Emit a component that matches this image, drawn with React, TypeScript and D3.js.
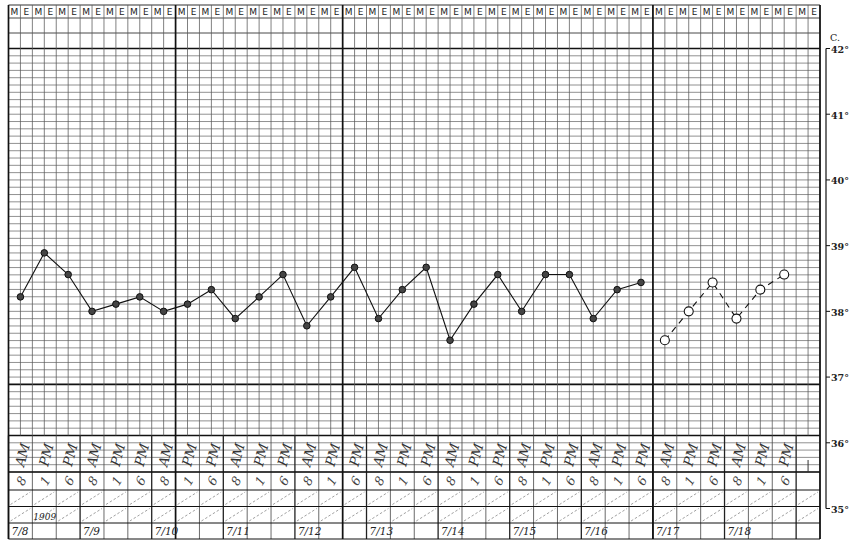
import * as d3 from "d3";

// dates along the bottom, three readings per day
const days = ["7/8", "7/9", "7/10", "7/11", "7/12", "7/13", "7/14", "7/15", "7/16", "7/17", "7/18"];
const hours = ["8", "1", "6"];
const periods = ["AM", "PM", "PM"];
const headerLetters = ["M", "E"];
const scaleLabels = [42, 41, 40, 39, 38, 37, 36, 35];

// temperatures (°C), 7/8 8AM .. 7/16 6PM
const solidTemps = [
  38.22, 38.89, 38.56, 38.0, 38.11, 38.22, 38.0, 38.11, 38.33,
  37.89, 38.22, 38.56, 37.78, 38.22, 38.67, 37.89, 38.33, 38.67,
  37.56, 38.11, 38.56, 38.0, 38.56, 38.56, 37.89, 38.33, 38.44,
];
// 7/17 8AM .. 7/18 6PM, drawn dashed with open circles
const dashedTemps = [37.56, 38.0, 38.44, 37.89, 38.33, 38.56];

const W = 855;
const H = 548;

export default function App() {
  const nCols = days.length * 3 + 1;
  const x = d3.scaleLinear().domain([0, nCols]).range([8.5, 820]);
  const y = d3.scaleLinear().domain([35, 42]).range([508.5, 48.5]);
  const cx = (i: number) => x(i + 0.5);

  // grid is ruled in 0.2°F steps -> 9 lines per °C
  const gridTemps = d3.range(0, 59).map((k) => 42 - k / 9);
  const thickRows = [0, 46, 53];
  const gridBottom = y(gridTemps[58]);
  const labelTop = y(gridTemps[53]);
  const tableRows = [gridBottom, 490, 506.5, 523, 539];
  const top = 5;
  const thickCols = [0, 7, 14, 27, nCols];

  const line = d3
    .line<number>()
    .x((_, i) => cx(i))
    .y((d) => y(d));
  const dashLine = d3
    .line<number>()
    .x((_, i) => cx(i + solidTemps.length))
    .y((d) => y(d));

  const thin = "#555";
  const hand = "'DejaVu Serif', serif";

  return (
    <svg
      width={W}
      height={H}
      viewBox={`0 0 ${W} ${H}`}
      style={{ position: "absolute", left: 0, top: 0, background: "#fff", display: "block" }}
    >
      {/* horizontal lines above the grid */}
      {[top, 18, 33].map((yy, i) => (
        <line key={"hh" + i} x1={x(0)} x2={x(nCols)} y1={yy} y2={yy} stroke="#333" strokeWidth={i === 0 ? 1.2 : 0.9} />
      ))}

      {/* temperature grid rows */}
      {gridTemps.map((t, k) => (
        <line
          key={"gr" + k}
          x1={x(0)}
          x2={x(nCols)}
          y1={y(t)}
          y2={y(t)}
          stroke={thickRows.includes(k) ? "#111" : thin}
          strokeWidth={thickRows.includes(k) ? 1.7 : 0.65}
        />
      ))}

      {/* half-column verticals down to the label area */}
      {d3.range(0, nCols * 2 + 1).map((k) => (
        <line
          key={"hv" + k}
          x1={x(k / 2)}
          x2={x(k / 2)}
          y1={top}
          y2={labelTop}
          stroke={thin}
          strokeWidth={0.75}
        />
      ))}

      {/* full-column verticals through the lower table */}
      {d3.range(0, nCols + 1).map((k) => (
        <line
          key={"fv" + k}
          x1={x(k)}
          x2={x(k)}
          y1={labelTop}
          y2={tableRows[4]}
          stroke={k % 3 === 0 ? "#222" : "#444"}
          strokeWidth={k % 3 === 0 ? 1.3 : 0.8}
        />
      ))}

      {/* heavy verticals */}
      {thickCols.map((k) => (
        <line key={"tv" + k} x1={x(k)} x2={x(k)} y1={top} y2={tableRows[4]} stroke="#111" strokeWidth={1.7} />
      ))}

      {/* lower table rows */}
      {tableRows.map((yy, i) => (
        <line
          key={"tr" + i}
          x1={x(0)}
          x2={x(nCols)}
          y1={yy}
          y2={yy}
          stroke="#111"
          strokeWidth={i === 0 ? 1.6 : 1}
        />
      ))}

      {/* dashed diagonals */}
      {d3.range(0, nCols).map((c) =>
        [1, 2].map((r) => (
          <line
            key={"dg" + c + "-" + r}
            x1={x(c) + 2}
            x2={x(c + 1) - 2}
            y1={tableRows[r + 1] - 2}
            y2={tableRows[r] + 2}
            stroke="#777"
            strokeWidth={0.7}
            strokeDasharray="2.5,2"
          />
        ))
      )}

      {/* M / E header */}
      {d3.range(0, nCols * 2).map((k) => (
        <text
          key={"me" + k}
          x={x(k / 2 + 0.25)}
          y={15}
          textAnchor="middle"
          fontFamily="'DejaVu Sans', sans-serif"
          fontSize={9}
          fill="#222"
        >
          {headerLetters[k % 2]}
        </text>
      ))}

      {/* handwritten time labels */}
      {d3.range(0, days.length * 3).map((c) => (
        <g key={"tl" + c}>
          <text
            transform={`translate(${cx(c) + 2},${(labelTop + gridBottom) / 2 + 1}) rotate(-75)`}
            textAnchor="middle"
            dy="0.35em"
            fontFamily={hand}
            fontStyle="italic"
            fontSize={13.5}
            fill="#333"
          >
            {periods[c % 3]}
          </text>
          <text
            transform={`translate(${cx(c) + 1},${(tableRows[0] + tableRows[1]) / 2}) rotate(-60)`}
            textAnchor="middle"
            dy="0.35em"
            fontFamily={hand}
            fontStyle="italic"
            fontSize={12.5}
            fill="#444"
          >
            {hours[c % 3]}
          </text>
        </g>
      ))}

      {/* small mark in the spare column */}
      <line x1={cx(nCols - 1)} x2={cx(nCols - 1)} y1={gridBottom - 12} y2={gridBottom} stroke="#333" strokeWidth={1} />

      {/* dates */}
      {days.map((d, i) => (
        <text
          key={"dt" + i}
          x={x(i * 3) + 3}
          y={tableRows[4] - 4}
          fontFamily={hand}
          fontStyle="italic"
          fontSize={10.5}
          fill="#222"
        >
          {d}
        </text>
      ))}
      <text x={x(1) + 1} y={tableRows[3] - 3} fontFamily={hand} fontStyle="italic" fontSize={9} fill="#222">
        1909
      </text>

      {/* temperature traces */}
      <path d={line(solidTemps) ?? ""} fill="none" stroke="#111" strokeWidth={1.1} />
      <path d={dashLine(dashedTemps) ?? ""} fill="none" stroke="#111" strokeWidth={1.1} strokeDasharray="6,5" />
      {solidTemps.map((t, i) => (
        <circle key={"sp" + i} cx={cx(i)} cy={y(t)} r={3.3} fill="#444" stroke="#111" strokeWidth={1} />
      ))}
      {dashedTemps.map((t, i) => (
        <circle
          key={"dp" + i}
          cx={cx(i + solidTemps.length)}
          cy={y(t)}
          r={4.5}
          fill="#fff"
          stroke="#111"
          strokeWidth={1.1}
        />
      ))}

      {/* Celsius scale on the right */}
      <line x1={826} x2={826} y1={y(42)} y2={y(35)} stroke="#111" strokeWidth={1.2} />
      {scaleLabels.map((v) => (
        <g key={"sl" + v}>
          <line x1={826} x2={830} y1={y(v)} y2={y(v)} stroke="#111" strokeWidth={1} />
          <text
            x={831}
            y={y(v) + 1}
            dy="0.35em"
            fontFamily="'DejaVu Serif', serif"
            fontWeight="bold"
            fontSize={9.5}
            fill="#222"
          >
            {v + "°"}
          </text>
        </g>
      ))}
      <text x={830} y={y(42) - 8} fontFamily="'DejaVu Serif', serif" fontSize={9.5} fill="#222">
        C.
      </text>
    </svg>
  );
}
